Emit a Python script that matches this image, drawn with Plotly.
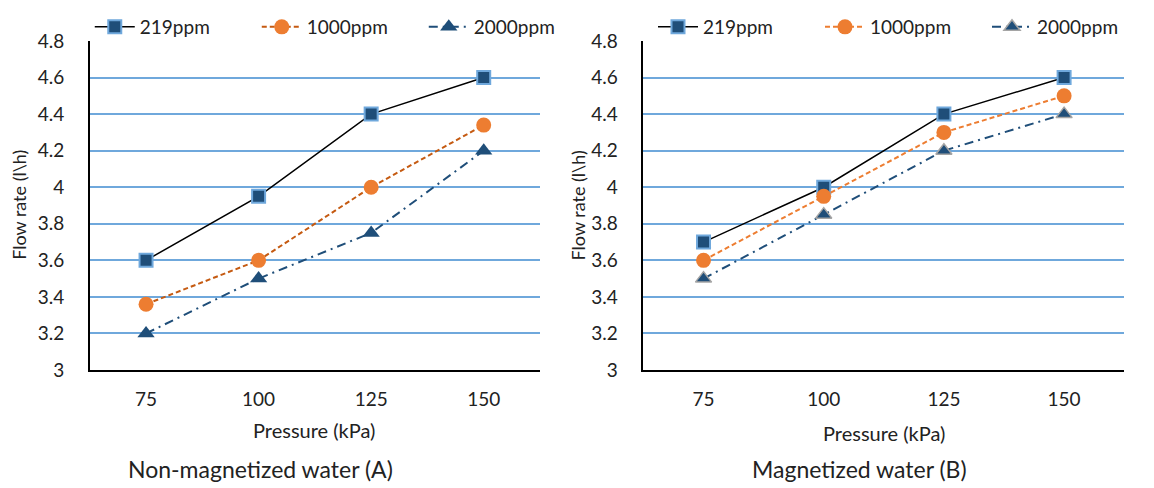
import plotly.graph_objects as go

pressure = ["75", "100", "125", "150"]
series_names = ["219ppm", "1000ppm", "2000ppm"]

# Non-magnetized water (A)
a_219 = [3.6, 3.95, 4.4, 4.6]
a_1000 = [3.36, 3.6, 4.0, 4.34]
a_2000 = [3.2, 3.5, 3.75, 4.2]

# Magnetized water (B)
b_219 = [3.7, 4.0, 4.4, 4.6]
b_1000 = [3.6, 3.95, 4.3, 4.5]
b_2000 = [3.5, 3.85, 4.2, 4.4]

y_ticks = [3, 3.2, 3.4, 3.6, 3.8, 4, 4.2, 4.4, 4.6, 4.8]

FONT = "Lato"
# page body has an 8px margin; figure sized to fill the rest of the window
OFF = 8
W, H = 1154 - OFF, 488 - OFF


def px(x):
    return (x - OFF) / W


def py(y):
    return 1 - (y - OFF) / H


fig = go.Figure()

styles_a = [
    dict(line=dict(color="black", width=1.5, dash="solid"),
         marker=dict(symbol="square", size=13, color="#1F4E79", line=dict(color="#6FA8DC", width=2))),
    dict(line=dict(color="#C55A11", width=2, dash="5px,3px"),
         marker=dict(symbol="circle", size=15, color="#ED7D31", line=dict(color="#ED7D31", width=0))),
    dict(line=dict(color="#1F4E79", width=2, dash="9px,5px,2px,5px"),
         marker=dict(symbol="triangle-up", size=15, color="#1F4E79", line=dict(color="#1F4E79", width=0))),
]
styles_b = [
    dict(line=dict(color="black", width=1.5, dash="solid"),
         marker=dict(symbol="square", size=13, color="#1F4E79", line=dict(color="#6FA8DC", width=2))),
    dict(line=dict(color="#ED7D31", width=2, dash="5px,3px"),
         marker=dict(symbol="circle", size=15, color="#ED7D31", line=dict(color="#ED7D31", width=0))),
    dict(line=dict(color="#1F4E79", width=2, dash="9px,5px,2px,5px"),
         marker=dict(symbol="triangle-up", size=14, color="#1F4E79", line=dict(color="#A5A5A5", width=1.5))),
]

for name, vals, st in zip(series_names, [a_219, a_1000, a_2000], styles_a):
    fig.add_trace(go.Scatter(x=pressure, y=vals, name=name, mode="lines+markers",
                             xaxis="x", yaxis="y", legend="legend", **st))
for name, vals, st in zip(series_names, [b_219, b_1000, b_2000], styles_b):
    fig.add_trace(go.Scatter(x=pressure, y=vals, name=name, mode="lines+markers",
                             xaxis="x2", yaxis="y2", legend="legend2", **st))

ydom = [py(370), py(41)]
xdom1 = [px(91), px(548)]
xdom2 = [px(653), px(1141)]

xcommon = dict(type="category", categoryorder="array", categoryarray=pressure,
               range=[-0.5, 3.5], showgrid=False, showline=True, linecolor="black",
               linewidth=1.5, ticks="", ticklabelstandoff=11, automargin=False,
               tickfont=dict(family=FONT, size=19, color="#222"), zeroline=False)
ycommon = dict(range=[3, 4.8], tickvals=y_ticks, ticktext=[f"{v:g}" for v in y_ticks],
               showgrid=True, gridcolor="#6FA8DC", gridwidth=1.5, showline=True,
               linecolor="black", linewidth=1.5, ticks="", ticklabelstandoff=20,
               automargin=False,
               tickfont=dict(family=FONT, size=19, color="#222"), zeroline=False)

leg = dict(orientation="h", xanchor="left", y=1, yanchor="top",
           font=dict(family=FONT, size=19, color="#222"), bgcolor="rgba(0,0,0,0)",
           entrywidth=112, itemwidth=40, tracegroupgap=0)

fig.update_layout(
    width=W, height=H, margin=dict(l=0, r=0, t=0, b=0),
    paper_bgcolor="white", plot_bgcolor="white",
    font=dict(family=FONT, color="#222"),
    xaxis=dict(domain=xdom1, anchor="y", **xcommon),
    yaxis=dict(domain=ydom, anchor="x", **ycommon),
    xaxis2=dict(domain=xdom2, anchor="y2", **xcommon),
    yaxis2=dict(domain=ydom, anchor="x2", **ycommon),
    legend=dict(x=px(91), **leg),
    legend2=dict(x=px(663), **leg),
    showlegend=True,
)

ann = [
    dict(text="Pressure (kPa)", x=px(319), y=py(430)),
    dict(text="Pressure (kPa)", x=px(897), y=py(433)),
    dict(text="Non-magnetized water (A)", x=px(264), y=py(469), size=23),
    dict(text="Magnetized water (B)", x=px(872), y=py(469), size=23),
]
for a in ann:
    fig.add_annotation(text=a["text"], x=a["x"], y=a["y"], xref="paper", yref="paper",
                       showarrow=False, xanchor="center", yanchor="middle",
                       font=dict(family=FONT, size=a.get("size", 20), color="#222"))
for xx in [19, 587]:
    fig.add_annotation(text="Flow rate (l\\h)", x=px(xx), y=py(205), xref="paper", yref="paper",
                       showarrow=False, textangle=-90, xanchor="center", yanchor="middle",
                       font=dict(family=FONT, size=18, color="#222"))

fig.write_html("out.html")
